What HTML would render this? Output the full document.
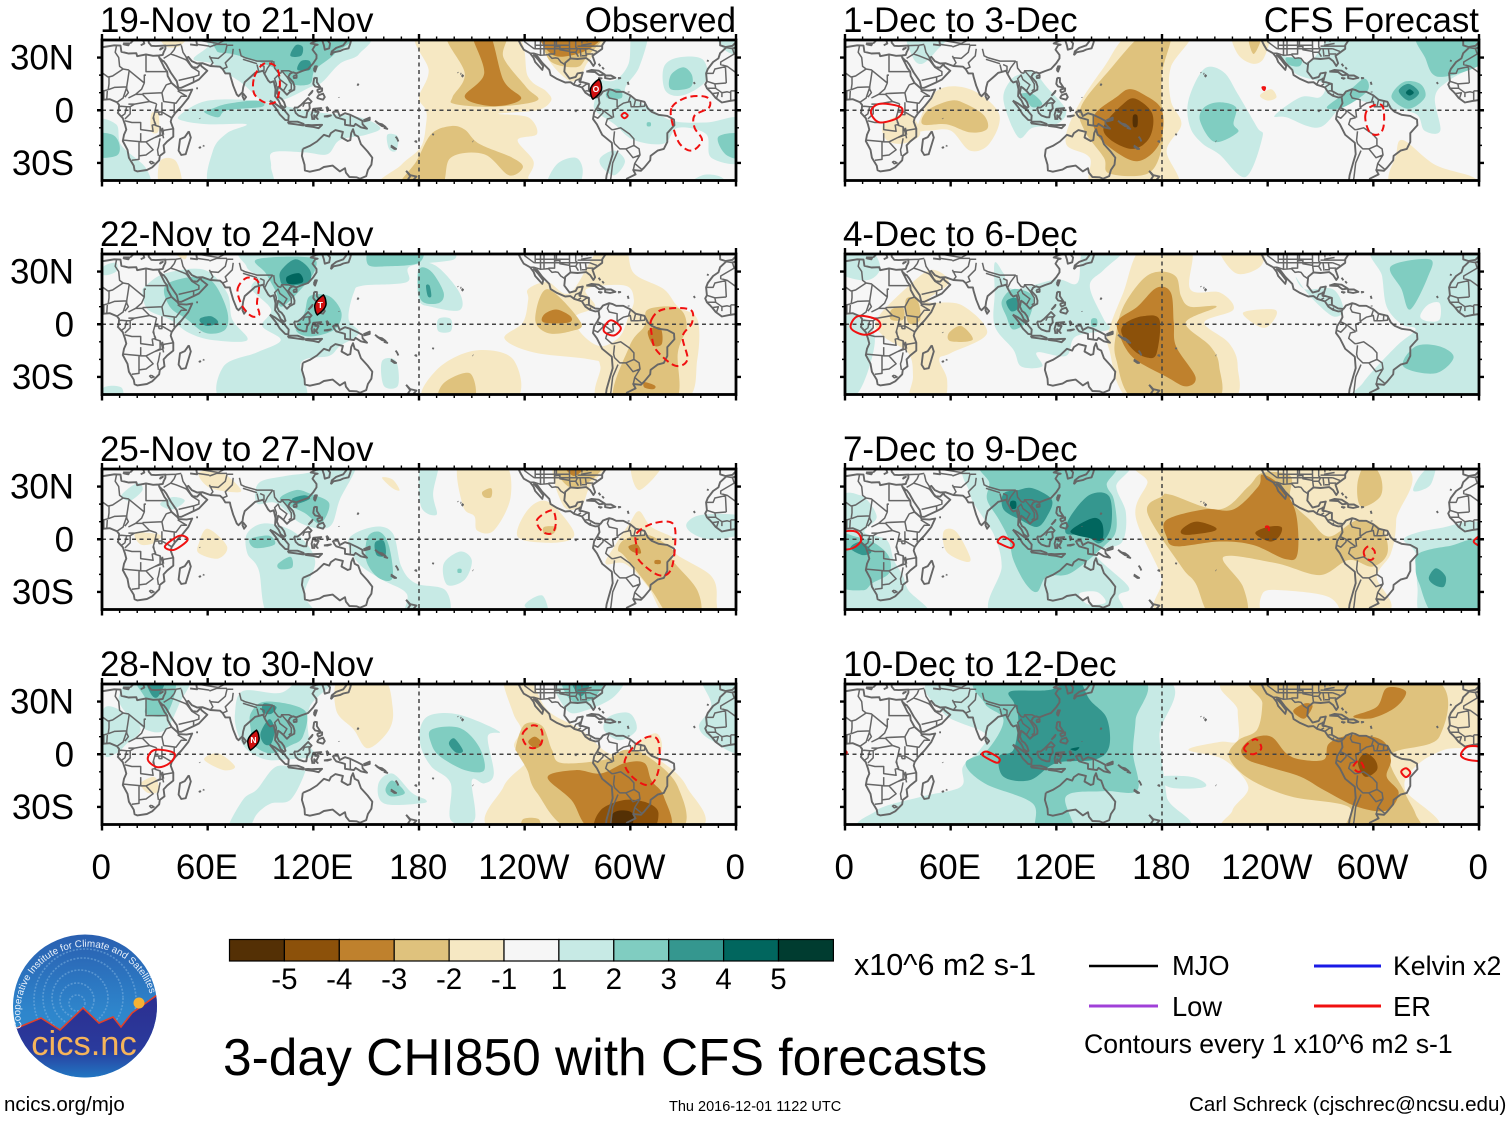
<!DOCTYPE html>
<html lang="en">
<head>
<meta charset="utf-8">
<title>3-day CHI850 with CFS forecasts</title>
<style>
html,body{margin:0;padding:0;background:#fff;}
svg{display:block;font-family:"Liberation Sans",sans-serif;}
</style>
</head>
<body>
<svg id="chart" xmlns="http://www.w3.org/2000/svg" width="1510" height="1121" viewBox="0 0 1510 1121">
<defs>
<linearGradient id="logoSky" x1="0" y1="0" x2="0" y2="1"><stop offset="0" stop-color="#2a5fb0"/><stop offset="0.55" stop-color="#2e86cc"/><stop offset="1" stop-color="#2f8fd0"/></linearGradient>
<linearGradient id="logoLand" x1="0" y1="0" x2="0" y2="1"><stop offset="0" stop-color="#2c2f90"/><stop offset="0.6" stop-color="#2a3a9c"/><stop offset="1" stop-color="#1f86cc"/></linearGradient>
<clipPath id="logoClip"><ellipse cx="85" cy="1006" rx="72" ry="71.5"/></clipPath>
</defs>
<g id="panels"></g>

<g id="colorbar"></g>
<text x="854" y="975" font-size="30.5">x10^6 m2 s-1</text>

<g>
<line x1="1089" x2="1158" y1="966" y2="966" stroke="#000" stroke-width="2.6"/>
<text x="1172" y="975" font-size="27.3">MJO</text>
<line x1="1089" x2="1158" y1="1006" y2="1006" stroke="#a040d8" stroke-width="3"/>
<text x="1172" y="1016" font-size="27.3">Low</text>
<line x1="1314" x2="1381" y1="966" y2="966" stroke="#1a1ae6" stroke-width="3"/>
<text x="1393" y="975" font-size="26.7">Kelvin x2</text>
<line x1="1314" x2="1381" y1="1006" y2="1006" stroke="#f01010" stroke-width="3"/>
<text x="1393" y="1016" font-size="27.3">ER</text>
<text x="1084" y="1053" font-size="26.6">Contours every 1 x10^6 m2 s-1</text>
</g>

<text x="223" y="1075" font-size="51.5">3-day CHI850 with CFS forecasts</text>
<text x="4" y="1111" font-size="20.5">ncics.org/mjo</text>
<text x="669" y="1111" font-size="14.5">Thu 2016-12-01 1122 UTC</text>
<text x="1189" y="1111" font-size="20.6">Carl Schreck (cjschrec@ncsu.edu)</text>

<g>
<ellipse cx="85" cy="1006" rx="72" ry="71.5" fill="url(#logoSky)"/>
<g clip-path="url(#logoClip)">
<g fill="none" stroke="#7fb2e0" stroke-width="1.6" stroke-dasharray="2 1.5" opacity="0.55">
<circle cx="77" cy="1003" r="8"/><circle cx="77" cy="1000" r="17"/><circle cx="80" cy="998" r="28"/><circle cx="83" cy="998" r="40"/><circle cx="85" cy="1000" r="51"/>
</g>
<path d="M10,1030 L17,1028 L41,1018 L60,1030 L83,1008 L99,1023 L113,1017 L121,1027 L132,1013 L157,995 L165,995 L165,1085 L5,1085 Z" fill="url(#logoLand)" stroke="#e0402a" stroke-width="1.6"/>
<circle cx="139" cy="1003" r="5.5" fill="#f7b234"/>
</g>
<path id="logoArc" d="M22,1028 A65,65 0 1 1 151,998" fill="none"/>
<text font-size="9.9" fill="#e8f0fa"><textPath href="#logoArc">Cooperative Institute for Climate and Satellites</textPath></text>
<text x="84" y="1055" font-size="34.5" text-anchor="middle" fill="#f5b45a">cics.nc</text>
</g>
</svg>

<script>
// ---- Scale and axis categories ----
const colorbarColors = ['#543005','#8c510a','#bf812d','#dfc27d','#f6e8c3','#f6f6f6','#c7eae5','#80cdc1','#35978f','#01665e','#003c30'];
const colorbarLabels = ['-5','-4','-3','-2','-1','1','2','3','4','5'];
const lonTicks = [0,60,120,180,240,300,360];
const lonTickLabels = ['0','60E','120E','180','120W','60W','0'];
const latTicks = [30,0,-30];
const latTickLabels = ['30N','0','30S'];
const panelTitles = ['19-Nov to 21-Nov','22-Nov to 24-Nov','25-Nov to 27-Nov','28-Nov to 30-Nov','1-Dec to 3-Dec','4-Dec to 6-Dec','7-Dec to 9-Dec','10-Dec to 12-Dec'];

// ---- CHI850 anomaly contours: [level, lon,lat, lon,lat, ...]; 0 = hole, x.5 = hole inside a stronger level ----
const contoursNov19 = [
[1,44,-3,58,5,80,6,96,4,121,-1,146,-4,158,-10,150,-14,135,-17,128,-25,115,-24,97,-24,96,-32,95,-40,62,-40,63,-23,71,-13,82,-8,60,-8,46,-6],
[1,147,39,146,32,135,26.5,125,16,118,13,107,7.5,100,5.5,91,5.5,80,15,71,21,63,26.5,52,29,60,36,66,39],
[1,0,-8,8,-8,11,-20,25,-33,25,-40,0,-40],
[1,162,-14,168,-15,167,-23,163,-22],
[1,280,17,291,17,299,26.5,301,39,310,39,305,24.5,297,11,310,2,324,-6,343,-7,360,-5,360,-29,346,-27,343,-13.5,327,-10,319,-19,302,-17,291,-8,280,0,280,7.5],
[1,253,-40,258,-31,269,-27,273,-34.5,269,-40],
[1,283,-27,291,-23,297,-29,291,-37,284,-32.5],
[1,332,-40,341,-37,351.5,-38,354,-40],
[1,319,24.5,327,30,341,29,343,17,330,8.5,320,11],
[1,349,39,354,34,360,32,360,39],
[2,140,39,132,32,121,23,118,15,107,15,104,21,88,28,74,32,65,34,70,39],
[2,63,1,71,3.6,88,5.5,91,2,71,0,66,-4,58,-1],
[2,0,-14,6,-14,10,-20,8,-26,0,-26],
[2,350,-15,360,-14,360,-27,354,-25],
[2,323,20,330,24.5,335,20,334,13,323,12],
[2,287,11,294,12,295,7,287,7],
[2,309.5,-7,311.5,-7,311.5,-9,309.5,-9],
[3,107,31,110,37,114,36,113,31],
[3,111,23,113,28,118,28,118,23],
[-1,33,38.5,49,38.5,44,36.5,36,36.5],
[-1,28,-2,32,-2,32,-12,28,-12],
[-1,33,-29,42,-29,45,-40,33,-40],
[-1,180,39,233,39,242,19,252,11,255,5.5,247,0,225,-2,242,-4,247,-13.5,236,-17,245,-29,242,-38,240,-40,161,-40,170,-31,181,-21,184,-8,184,0,180,7.5,185.5,22.5],
[-1,253,39,253,30,265,17,272,19,275,26,286,39],
[-2,196,39,206,21,199,7.5,200.5,3.5,222.5,2,247,5.5,241,13,228,30,228,39],
[-2,187,-13.5,198,-9,206,-11,214,-19,233,-27,239,-32.5,231,-37,217,-25,198,-27,192,-40,169,-40,178.5,-29],
[-2,253,39,254,28.5,269,24.5,275,30,284,39],
[-3,210,39,217,21,206,7.5,222.5,2.3,238,6.5,228,17,220,39],
[-3,250,39,257,31,275,34,283,39]
];
const contoursNov22 = [
[1,25,22,36,29,58,31,71,18,74,2.7,82.5,-9,63,-9,49.5,-5,38.5,2.7,26,8.4,23,18],
[1,85,39,175,39,195,39,200,37,175,33,173,24,148,22,143,18,140,3,146,-5,135,-12.5,129,-18,113,-22,114,-39,69,-39,69,-24,88,-16,101.5,-9,91,-1,96,8.4,85,20,88,27,82,33],
[1,180,33,190,33,203,18,203,8,187,10,180,14],
[1,159,-21,167,-21,168,-35,160,-35],
[1,191,3,198,3,198,-4,191,-4],
[1,1,-36,11,-36,11,-40,1,-40],
[1,1,33,8,35,8,30,1,28],
[0,81,13,88,13,90,6,84,5],
[2,88,37,118,38,121,31,113,20,102,10,99,18,93,29],
[2,118,16,129,16,136,6.5,132,-3,118,-7,110,-3,115,6.5],
[2,36,22,52,27,63,24,71,8,70,-3,59,-5,48,3,38.5,10],
[2,151,34,154,39,180,39,180,35,162,33],
[2,180,31,187,30,194,18,191,12,181,14],
[3,102,31,110,37,118,31,117,24,104,22,101,26],
[3,56,3.5,62,4.5,66,1,60,-1,56,1],
[3,184,22,186,22,187,16,185,16],
[4,105,27,112,29,114,24,106,23],
[-1,37,39,47,39,47,37],
[-1,242,20,253,24,266,18,283,39,297,39,302,29,319,20,327,10,338,3,338,-20,330,-39,283,-39,283,-24,277,-20,245,-16,228.5,-8,239,1,242,14],
[-1,184,-39,190,-26,211.5,-15,233.5,-20,233.5,-39],
[0,275,20,297,22,302,14,299,4.5,294,-7,283,-12.5,272,-5,269,4.5,280,10],
[-2,192,-39,194,-33.5,209,-28,211,-39],
[-2,246,3,253,20,272,1,266,-4,253,-5],
[-2,310,8.4,327,9.3,332,-1,327,-16,325,-39,291,-39,299.5,-12.5,308,-1],
[-3,251,5.5,258,8.4,266,4.5,265,1,251,1],
[-3,310,-4,317,-2,318,-11,313,-12],
[-3,308,-33,314,-35,313,-37,308,-36]
];
const contoursNov25 = [
[1,89,32,104,36,118,38,144,39,135,22.5,129,7,113,9,99,20.5,88,20.5],
[1,82.5,3.5,93,9,110,3.5,121,-12,115,-31,121,-40,95,-40,89,-17.5,82.5,-8],
[1,140,0,154,7,165,3.5,170,-15.6,178,-25,195,-29,196,-40,173,-40,173,-31,159,-23,145.6,-13.7],
[1,181,38.7,191,38.7,188,26,190,14,181,19],
[1,194,-14,203.5,-7,210,-12,206,-23,196,-26],
[1,240,-38,250,-32,253,-40],
[1,332,9,341,14,360,13,360,3.5,346,0,335,3.5],
[1,11,25,20,32,23,28,16,22],
[1,33,20,40,24,47,22,40,17],
[2,151,1.5,158,4,163,-4,165,-22,157,-22,150,-12],
[2,84,0,95,2,98,-3,87,-5],
[2,100,-14,107,-10,108,-16,101,-17],
[2,101,22.5,110,28,118,26,129,20.5,124,9,115,15],
[2,202,-17,204,-17,204,-19,202,-19],
[3,155,-2,160,-1,161,-9,156,-9],
[3,108,23,115,25,118,23,110,20],
[-1,203,39,228,39,232,24,222.5,5,213,5,211.5,13,205,19],
[-1,236,1.5,242,17,253,21.5,266.5,7,266.5,0,253,-2],
[-1,257,39,262,19,272,19,277,30,286,39],
[-1,301,39,319,39,305,28],
[-1,286,-14,291,-4,299.5,9,305,16,312,7,325.5,0,325.5,-8,346,-21,349,-35,346,-40,321,-40,310,-27,297,-14],
[-1,19,3.5,33,2.5,30,-2,22,-3],
[-1,55,-2.3,60,6,71,-4,66,-11,55,-8],
[-1,55,38,68,38,79,28,72,27,60,30],
[-1,159,35,165,34,169,28,165,29],
[-2,216,27,221,29,221,24,217,24],
[-2,251,7,258,7,256,3,251,3],
[-2,257,38.7,265,30,277,33,284,38.7],
[-2,293,-6,297,0,310,2.5,324,-6,324,-12,338,-29,339,-38.5,323,-39.5,312,-29,297,-10],
[-3,262,39,268,36,276,39],
[-3,299,-4,304,-3,306,-8,301,-7],
[-3,314,-12,317,-12,317,-14,314,-14]
];
const contoursNov28 = [
[1,75.5,23.4,80,36,101.5,35,113,38.7,121,39.6,135,39.6,118,27,118,6,121,-1,104,-3,93,-3,82.5,2.5,77,12],
[1,88,-20,99,-7,113,-9,115,-11,107,-26,96,-28,88,-34,82,-39.5,71,-39.5,80,-26],
[1,9.6,33,19,39.6,49,39.6,44,29,36,14,25,14,14,23],
[1,1,26,14,23,22,14,14,6,8,0.5,1,0.5],
[1,341,38.7,360,38.7,360,2.5,346,8,339,16,346,28],
[1,181,16,187,22.5,203,22.5,225.5,13,219,10,222.5,-11,217,-16.6,210,-15,211.5,-37.5,198,-37.5,198,-16.6,187,-7,181,4.4],
[1,157,-16.6,165,-11,176,-22,184,-26,181,-28,160,-28],
[1,258,39.6,264,25,275,25,291,33,294,39.6],
[1,288,21.5,299.5,23.4,303.5,14,294,8,285,14],
[2,84.5,23.4,93,30,115,25,114,10,107,5,96,0.5,86.5,5,84.5,14],
[2,19,39.6,41,39.6,37,23.4,25,23,25,31],
[2,187,14,203,15,214,4.4,217,-9,206,-9,192,-1.3,187,6],
[2,161,-20,165,-15,172,-22,164,-24],
[2,262,39,266,31,278,31,285,39],
[3,90,12,95,20,98,14,96,6,92,6],
[3,92,29,99,27,96,23,91,24],
[3,25,39,36,39,32,33,28,34],
[3,197,6,200,9,205,2,201,1],
[3,266,39,272,33,278,39],
[-1,228,39.6,242,39.6,253,25,272,14,288,0.5,302,2.5,316,-3,332,-18.5,335,-39.5,225,-39.5,228,-18.5,242,-3,234,4.4,238,14,233.5,23.4],
[-1,133,25,135,39,159,39,165,27,163,14,151,3.4,143,14],
[-1,58,-3,66,0.5,75.5,-7,69,-9],
[-1,22,-16.6,30,-13,32,-21,26,-22],
[-1,300,3,314,12,318,4,313,-3],
[-2,235,4.4,240,17,250,16,255.5,2.5,261,-5,286,-3,297,2.5,310,-1.3,327,-18.5,327,-39.5,269,-39.5,247,-22,241.5,-9,236,0.5],
[-2,239,-37,248,-37,248,-39.5,239,-39.5],
[-3,242,7,246,10,250,6,246,3.4],
[-3,253,-13,269,-9,283,-11,297,-5,308,-5,312,-15,319,-24,321,-39.5,280,-39.5,266.5,-26],
[-4,281.5,-39.5,283,-32,297,-26,310.5,-28,316,-34,310,-39.5],
[-5,290,-34,297,-32,302,-35,299,-39.5,291,-39.5]
];
const contoursDec1 = [
[1,94,17,90,5.5,98.4,-15.4,106.5,-10,120,-8,125.5,0,114.7,13,106.5,22.7,100,20.8],
[1,36,39,59,39,52,34,44,26.5,38.6,30],
[1,195,5.5,204,23.6,215,21.7,223,9.3,234,-9.7,237,-15.4,227.5,-38,212.5,-25,203,-19,196,-9.7],
[1,248,31,264,28,284.5,39,359,39,359,30,343,17,335,7.4,338,-11.6,329,-11.6,324,-2,305,1.7,286,5.5,269.6,-9.7,250.5,-4,244,-3,258.7,7.4,269.6,7.4,272,15,256,20.8],
[2,100,9.3,106.5,9.3,112,3.6,106.5,1.7,103,6],
[2,201.6,-6,204,1.7,212.5,4.6,222,1.7,220.6,-7.8,223,-12.6,209.8,-18],
[2,326,39,360,39,359,28,337.5,19,329.4,30],
[2,310.3,7.4,317,16,326.6,15,329.4,7.4,320,0.8],
[2,273.6,1.7,286,11,295,18,296.7,11,283,1.7],
[2,250.5,30,259,29,258,25,252,26],
[3,314.4,11,320,15,326,10,320,5.5],
[4,318.5,10,320.6,12,323,10,320.6,8.4],
[-1,163,39,196,39,185,24.5,185,5.5,191,-8,182.6,-23,188,-39,142,-39,139,-27,125.5,-19,131,0,147,24.5],
[-1,41,-10,52,11,71,12,87.5,-2,82,-19,71,-23,60,-11.6,47,-11.6],
[-1,22,-8,36,-2,42.7,-13.5,33,-19,23.6,-17],
[-1,311.7,-39,313,-25,317,-17,335,-31,356.5,-38,358,-39],
[-1,220.6,39,240,39,238,30,231.5,26.5,223,32],
[-1,235.6,8.4,242,12,245,7.4,240,5.5],
[-2,170,39,185,39,180,21,180,-4,180,-21,172,-36,150,-36,147,-27,136,-11.6,134,2,150,22.7],
[-2,44,-8,47,0,60,5.5,68.5,3.6,79,-3,80.7,-10.7,71,-12.6,57.6,-8],
[-2,229,39,237,39,232,32],
[-3,154,7.4,161,12,169,9.3,180,0,178.5,-19,166,-29,150,-21,142,-11.6,142,-2],
[-4,158,3.6,165,6.5,174.5,-2,173,-15.4,163.6,-22,151,-17,147,-9],
[-5,163.6,-3,166,-3,166,-9,163.6,-9]
];
const contoursDec4 = [
[1,85,35,90,29,95.6,20,120,25.5,132,23.6,136.4,39,159.5,39,147,31,139,21.7,147,2.7,150,-3,131,-7,125.5,-18,109,-16,112,-24,100,-24,95.6,-14.5,85,-1,85,18],
[1,0,-1,8.7,4.6,17,-8.8,8.7,-37,0,-39],
[1,0,39,13,39,20,32,12,25,0,30],
[1,302,39,360,39,360,-39,291,-39,294,-33.5,313,-12.6,324,-3,316,0,307.6,10,305,27.4],
[1,256,27,261,20,277,20,283,8.4,277,4.6,264,16],
[0,326.6,4.6,331,11,337.6,12,337.6,2.7,330.8,1.7],
[2,89,13,95.6,20,106.5,16,104,2.7,95.6,-3,91.6,4.6],
[2,310,33,332,37,331,27,321,8.4,316,20],
[2,317,-24,324,-12.6,337.6,-12.6,345.6,-19,335,-28],
[2,140,3,143,3,143,-1,140,-1],
[3,91.6,13,97,15,98.4,9.3,94.3,7.4],
[-1,169,39,196,39,196,20,213,18,220.6,8.4,204,1,218,-10.7,223,-24,218,-39,163.6,-39,150,-14.5,150,-3,158,18],
[-1,213,39,236,39,236,33,222,29],
[-1,226,6.5,243.7,8.4,243.7,2.7,237,-2],
[-1,18,2.7,36,21.7,49.4,31,59,23.6,46.8,13,66,11,80.7,-5,60,-16.4,53.5,-20,58,-31.6,55,-39,37,-39,38.6,-29.7,36,-16.4,22,-7],
[-2,178.5,30,188,27,190.8,16,196,10,211,10,193.4,0.8,207.5,-12.6,212.5,-24,210,-39,166,-39,154,-20,154,-5,158,10,169,25.5],
[-2,26.4,8.4,33,9.3,33,2.7,26,2.7],
[-2,34.5,14,41,14,42.7,2.7,36,0.8],
[-2,59,-5,66,-1,72.5,-8.8,60,-9.7],
[-3,166,10,177,20.8,185,18,186.7,0.8,188,-12.6,199,-30,193.5,-35.4,182.6,-30,163.6,-19,155.4,-5,155.4,2.7],
[-4,159.5,0.8,169,4.6,178.5,2.7,177,-16.4,171.7,-19,163.6,-14.5,157,-5]
];
const contoursDec7 = [
[1,74,39,157,39,154,30,159.5,15,157,-2,142,-8,161,-27,155.4,-32,152.7,-40,85,-40,89,-15.6,85,1.5,79.3,11,71,26],
[1,0,18.7,8.7,25,18,13,11,4,23.6,-0.4,27.7,-11.8,33,-21,36,-29,46.7,-40,0,-40],
[1,317.6,0.6,337.5,6.3,360,6.3,360,-40,329,-40,325,-27,324,-8],
[1,322.6,28,327,36.8,335.5,38.7,333,32,327.5,28],
[0,133,-31,143,-30,148,-36,138,-37],
[2,80.7,39,150,39,148.6,31,152.7,22.5,154,5.3,147,-4,128,-19.4,114.7,-21,109,-30,102.4,-25,95.6,-11.8,93,0,87.5,11,80.7,22.5,82,32],
[2,0,1.5,6,1.5,17,-2.3,25,-10,25,-19.4,15.5,-25,10,-29,0,-25],
[2,324,-15.6,326,-8,342.5,-4,360,-2.3,360,-40,336,-40,326,-25],
[3,90,26,98.4,28,106.5,29,117.4,22.5,114.7,13,109,7,99.7,11,90,17],
[3,125.5,3.4,128,13,139,25.3,150,24.4,151,7,144.6,-2.3,136.4,2.5],
[3,3,-5,9,-1.5,15,-7,10,-9],
[3,331.5,-22,335.5,-16.5,341,-21,340,-27,334.6,-26],
[4,128,4.4,140.5,12,146,9,146,-0.4,139,0.6],
[4,94,21.5,97,21.5,97,17.7,94,17.7],
[-1,174.5,39,311.6,39,313,11,310,-8,302,-21,302,-40,185,-40,179.6,-21,165,13,171.7,32],
[-1,56,4.4,63,4.4,71,-10,68.5,-12.8,57.6,-7],
[0,237,-31,248,-29,275,-33,277.7,-40,240,-40],
[-2,180,24.4,185,25.3,212.5,17,229,30,237,37.7,253,36,253,22.5,264,11,275,1.5,291.3,11,305,5.3,308,-8,299.5,-15.6,286,-11.8,269.6,-20.4,245,-13.7,215,-10,226,-27,227.5,-40,208,-40,199,-25,191,-15.6,171.7,15],
[-2,291,32,296.5,38.7,304,36,304,24.4,293,18.7],
[-3,237,36.8,247.8,30,256,15,257,-8,250.5,-11.4,231.5,-3.2,212.5,-1.3,188,-4,182.6,1.5,182.6,11,204,17,220.6,17,234.6,30],
[-4,191,5.3,199,10,210,7,208.7,4.4,193.5,2.5],
[-4,233,3.4,240,7,247.8,7,246.5,1.5,241,-1.3]
];
const contoursDec10 = [
[1,55,39.6,178.5,39.6,178.5,10,182.6,-24,185,-39.5,21,-39.5,18,-32,44,-24,65.8,-18.5,67,-7,76.6,2.5,79.3,12,56,23.4],
[1,178,-13,195,-12.6,204,-16,203,-19,185,-19],
[2,79.3,39.6,166,39.6,165,19.6,163.6,0.5,166,-20.4,147,-21,125.5,-24,129.6,-39.5,109,-39.5,106.5,-28,79.3,-16.6,68.5,-5,81,2.5,90,19.6,79.3,29],
[1.5,150,33,156,33,156,30,150,30],
[1.5,128,-26,146,-22,152,-30,148,-38,135,-38],
[3,94,35.8,117,36.8,131,38.7,139,31,148.6,20.6,150,4.4,142,-3,120,-5,105,-14.7,90,-12.8,87.5,-1.3,95.6,2.5,98.4,19.6,96,29],
[4,128,3,133,4,131,2],
[-1,223.4,39.6,359,39.6,359,8,340,2.5,324,-7,318,-20,333.4,-39.5,223,-39.5,220,-32,229,-18.5,215,-3,195,2.5,212.5,7,223,8,223,25],
[-2,235.6,39.6,332,39.6,337.5,10,310,-0.4,318,-22,324,-34,325,-39.5,286,-39.5,286,-30,253,-24,229,-13.7,218,-1.3,223.4,8,234,14,237,29],
[0,253,11,260,14,261.4,8,257.4,6.3],
[-3,225,2.5,231.5,9,242,10,250.5,0.6,258.7,-3,272,-3,275,6.3,288.6,11,305,8,310,-3,307.6,-12.8,314.4,-22,307.6,-32,291,-30,272,-20.4,258.7,-12.8,239.7,-7,228.8,-3.2],
[-3,288.6,21.5,302,27,307.6,37.7,318.5,35.8,313,27,299.5,20.6],
[-3,254.6,25,261.4,29,265.5,27.4,261.4,20.6,257.4,21.5],
[-2.5,273,-8,279,-7,282,-13,277,-14.7],
[-4,291.3,-5,295.4,0.6,301,-3.2,302,-9,295.4,-12.8]
];

// ---- ER wave contours: [dashed(1)/solid(0), lon,lat, ...] ----
const erNov19 = [
[1,86.5,19,92,26.5,99,24.5,101,15,99,5.5,93.5,4,86.5,9.3],
[1,323.6,1.7,332.4,7.4,343.4,7.4,344.8,1.7,336.5,-3,336.5,-10,340.7,-17,335,-23,328,-19,324,-8],
[0,295,-3,296.7,-1.5,298.5,-3,296.7,-4.5]
];
const erNov22 = [
[1,77,20,82.4,26.5,89,23.6,88,12,89.3,5.5,85,4.6,79.7,10.3],
[1,312,2.7,318.5,8.4,333.8,8.4,335,0.8,329.7,-7,332.4,-20,325.5,-23.6,314.6,-14.5,312,-5],
[0,285,-2,289,2.3,294.6,-2,291,-6.3,286,-5]
];
const erNov25 = [
[0,35.7,-4,44,2,48.6,-0.4,41,-6],
[1,247,11,255.5,16.4,257.7,9.3,255.5,3.4,250,4.4],
[1,303.6,3.4,313,9,324,9,325.5,-2.3,323,-17.5,316,-20.4,305,-12,303.5,-4]
];
const erNov28 = [
[0,26,-3,30,2.5,41,0.6,38.5,-5,31.6,-7.4],
[1,239,12,244.5,16.4,249.5,14,249.5,6.3,244.5,3.4,240,6.3],
[1,296.7,-5,302,4.4,310.4,10,316,7,316,-9,311,-17.5,302,-13.7]
];
const erDec1 = [
[0,14.7,-1,19.6,3.6,31.8,1.7,30.4,-4,19.6,-6.9],
[1,295.4,-4,298,1.7,305,2.7,306,-7.8,303.5,-13.5,298,-12.6],
[0,237,13,238.5,13,238,11.5]
];
const erDec4 = [
[0,3.3,-2,7.3,4.6,18,2.7,19.6,-2,11.4,-6]
];
const erDec7 = [
[0,-2,3.4,6,4.4,9.2,-0.4,4.6,-5,-2,-5],
[0,86.7,-1.3,90,1.5,95.6,-2.3,94.3,-5,89,-3],
[1,294.6,-7,297.3,-4,300.8,-7,299.5,-11.4,296,-11],
[0,362,2.5,357,-1.3,362,-4],
[1,239,7,240.5,7,240.5,4.5]
];
const erDec10 = [
[0,78,-0.4,80.7,1.5,87.5,-2.3,86,-4.8],
[0,315.8,-10,318.5,-8,321,-10.5,318.5,-13],
[0,349.7,-0.4,353.8,4.4,362,3.4,362,-3.2,354,-3.2],
[1,226.6,3.4,233,8.6,236.4,3.4,231.5,0],
[1,288.6,-7,292,-3.6,294.6,-8,291.3,-10],
[0,-2,3,1,1,-2,-1]
];

// ---- Tropical cyclone markers: [lon, lat, letter] ----
const stormsNov19 = [[280.5,12,'O']];
const stormsNov22 = [[124,11,'T']];
const stormsNov28 = [[86,8,'N']];

// ---- Map linework, flat lon,lat lists ----
const coastlines = [
[-5.5,35.8,-9,32.5,-10,29.5,-13,27.5,-16,23.5,-17,21,-16.5,16.5,-17.5,14.7,-16.5,12.5,-15,11,-13.5,9.5,-11.5,7,-8,4.4,-4,5.2,1,6,4.5,6.3,8.5,4.5,9.7,3,9.5,0,9,-1.5,11.8,-4.5,13,-8,13.8,-11,12.5,-14,11.8,-17.5,14.5,-22.5,15.3,-27,18,-31.5,18.5,-34.2,20,-34.8,25.5,-34,28.5,-32.5,32.5,-28.5,32.8,-26,35.5,-24,35,-20,37,-17.8,40.5,-15,40.5,-10.5,39,-6.5,39.5,-4.5,41.5,-1.7,45,2,49,7,51.2,11.8,48,11.2,43.5,11.5,43,12.5,39.5,15.5,37.3,19.5,37,22,35.5,24,33.8,27.5,32.5,30,32.3,31.2,29,31,25,31.8,20,30.8,19.5,32.5,15,32.3,11,33.3,10.5,36.8,7,37,1,36,-2,35.2,-5.5,35.8],
[32.5,30,34.5,28,35,28,36.5,26,39,21.5,42.5,16.5,43.3,12.8,45,12.8,52,16,55,17.5,59.8,22.5,56.5,25,56,26.3,54,24.2,51.5,24.5,50.2,26,48,29.8,49,30.4,51,28,54,26.6,57,26.8,61.5,25.2,67,24.8,68.5,23.5,70,21,72.6,21,73,19,74.5,14,76.5,9,77.5,8,79.8,10.3,80.2,13,81,16,85,19.5,87,21.3,89,21.8,91.5,22.5,92.3,20.5,94.3,17,95.5,15.8,97.5,16.5,98.5,12,98.3,8,100.3,5.5,101.5,2.8,103.5,1.4,104.2,2,103.4,4.5,102,6.5,100.5,7.5,99.3,10,100,13.4,101,12.7,103,11,105,8.8,106.5,10.3,109.2,11.7,109.3,13.5,108.5,16,105.8,19,106.8,20.8,108.5,21.6,110.3,21,113.5,22.3,117,23.5,120,26.8,121.8,29.5,121.8,31.5,119.5,34.5,121,37,122.5,37.3,118.5,38,121.5,39.5,125,40,126,37,126.5,34.5,129,35.3,129.5,38,127.5,40.5],
[-9,41,-9,39,-9,37,-6,36,-2,36.7,0,38.8,0.5,41],
[16,38,18,40,17,41],[12,38,15.5,38,15,37,12.5,37.5,12,38],[22,37,24,38,23,41],
[26.5,41,26.5,38.5,28,36.7,30.5,36.5,36,36.8,36,35,35,33,34.5,31.5,32.3,31.2],
[33,35,34.5,35.5,33,34.6,33,35],
[50,37.5,54,37,53.5,40,53,41],
[130,31.3,131.5,33,135,33.7,137,34.6,140,35.3,141,38,141.8,41,140,41,137,37,133,35.5,130.5,33.5,130,31.3],
[120.2,23,121,25,122,25,121,22,120.2,23],[108.7,19.5,110.5,20,110.5,18.5,109,18.3,108.7,19.5],
[120.5,18.5,122,18.3,122,16,124,13,121,13.5,120,15,120.5,18.5],
[122,7,125.5,6,126.5,7.5,125.5,9.5,123,8.5,122,7],[117.2,8.3,119.5,11,119,10,117.2,8.3],[122,11.5,123,10,125,11,125,12.5,123,12,122,11.5],
[109,1.5,111,1.5,113,3,115,5,117,7,119,5,117.7,3.5,118,1,116.5,-1,116,-4,114.5,-4,111.5,-3,110,-1.5,109,1.5],
[95.3,5.5,98,4,103.5,0,106,-3,105.8,-5.8,104,-5.5,101,-2.5,98.5,1.5,95.3,5.5],
[105.5,-6.5,108.5,-6.5,111,-6.5,114.5,-7.8,114.3,-8.6,110,-8,106,-7.5,105.5,-6.5],
[115,-8.5,117,-8.4,119,-8.5,122,-8.4,125,-8.3,123,-10.2,120,-9.5,116,-9,115,-8.5],
[119.5,-5.5,119,-2.5,120,0.8,124.5,1.2,121,-0.9,123,-1,121.5,-4,122.5,-5,120.5,-2.8,120.5,-5.5],
[127.5,2,128.5,1,128,-0.5,127.5,2],[126,-3.5,130,-3,128,-3.6,126,-3.5],
[131,-0.8,134,-0.8,135,-3.3,138,-1.7,141,-2.6,145,-4.5,147.8,-6,148,-8,150.5,-10.5,147,-9.7,144,-7.8,143,-9,138,-8.3,138,-5.5,133,-4,132,-2.8,131,-0.8],
[148.5,-5.7,152,-4.2,152,-5.5,149,-6.3,148.5,-5.7],[155,-6,157,-7.5,159,-8,161,-9.5,159,-9,156,-7],[160,-10,162,-10.6,161,-9.8],
[166.7,-15,167.5,-16,168.3,-17.8],[164,-20,167,-22,166,-22,164,-20.5],[177.5,-17.5,178.5,-18,178,-17.3],
[172.7,-34.5,175,-37,178.5,-37.7,177,-39.5,175.3,-41,173.8,-39.3,175,-37.5,172.7,-34.5],
[114,-22,113.5,-26,115,-31,115.2,-34.3,118,-35,123.5,-33.8,126,-32.3,131,-31.5,135,-34.8,138,-33,138.5,-35.5,140.5,-38,144.5,-38.2,146.5,-39,150,-37.5,151,-34,153,-31,153.5,-27,150.8,-23.5,147,-19.3,145.5,-15,143.5,-14,142.5,-10.8,141.5,-13,141,-17,139.5,-17.5,136,-15.5,136.8,-12.3,132.5,-11.3,130,-13,129,-15,126,-14,122,-17.8,118,-20.3,114,-22],
[49.3,-12,50.4,-15.5,47.5,-25,45,-25.5,43.5,-23,44.3,-16.5,47,-15.3,49.3,-12],
[80,9.7,81.8,7.5,80.7,6,79.8,8,80,9.7],
[55.3,-20.8,55.8,-21.2,55.4,-21.3,55.3,-20.8],[57.4,-20.1,57.7,-20.3,57.5,-20.5],[55.4,-4.5,55.6,-4.8],[53.5,12.5,54.5,12.5],
[-124,41,-122,37,-120.5,34.5,-117,32.5,-115,30,-114,27.5,-110,23,-109.5,25,-112.5,29,-114.8,31.5,-113,31,-110,27,-106,23,-105.3,20,-102,18,-97,15.8,-94,16,-92,14.5,-87.5,13,-85.5,10,-83,8.3,-80,7.3,-78,7.5],
[-77,8.7,-80,9,-83.5,11,-83.5,15,-87,16,-88.5,16,-88,18,-87,21.5,-90,21,-91,19,-94.5,18,-97.5,22,-97,27,-94,29.5,-90,29.2,-85,29.7,-82.8,28,-81,25.2,-80,26.8,-81.5,31,-76,35,-76,37,-74,40,-72,41],
[-78,7.5,-77.5,4,-78.8,1.5,-80.5,-1,-81.2,-5,-79,-8,-76,-14,-70.5,-18.5,-70,-25,-71.5,-30,-73.5,-37,-74,-41],
[-77,8.7,-75.5,10.7,-72,12,-70,11.5,-68,10.5,-64,10.5,-60,8.5,-57,6,-52,4.8,-50,1,-48,-0.8,-44,-2.6,-39,-3.2,-35.2,-5.3,-35,-8.5,-39,-13,-39,-18,-41,-22,-44.5,-23,-48.5,-26,-48.7,-28.5,-52,-32.5,-54,-34.5,-58.4,-34,-57,-36.5,-62,-39,-62,-41],
[-85,22,-82,23,-78,22.5,-74.5,20.3,-77.5,19.9,-80,21.7,-85,22],[-74.3,19.8,-71,19.8,-68.5,18.5,-71.5,17.8,-74.3,18.3,-74.3,19.8],[-78.3,18.4,-76.3,18.2,-77.5,17.8],[-67,18.4,-65.7,18.3,-67,18],
[-78,26.5,-77,25],[-76,24.5,-75,23.3],[-61.5,16.2,-61,14.5],[-61,10.7,-60.9,10.1],
[-158,21.6,-157.8,21.3],[-156.5,20.9,-156,20.7],[-155.8,20.2,-155,19.7,-155.7,19],[-91.5,0,-90.5,-0.8],[-24,16,-23.3,15],[-16.5,28.3,-15.5,28],[-172.5,-13.6,-171.5,-14],[-149.5,-17.6,-149.2,-17.8],[134.5,7.5,134.6,7.2],[145,14,145.7,15.2]
];
const borders = [
[-2,35,-1,32,-8.7,27.5,-8.7,26,-5,25,-12,23.5,-13,21,-17,21],[8.3,37,7.5,33,9.5,30,10,25,12,23.5],[25,31.8,25,22,36.8,22],[25,20,24,20,24,15.5,15,23,12,23.5,6,19.5,4,19,3.3,19,-5,25],[4,19,4,15,3.5,11.7],[-5.5,15.5,-6,25],[-12,15,-5.5,15.5],[3.6,11.7,7,13,14,13.3],[15.5,23,14,13.3,14,12,15,10,13,7.5],[24,15.5,22.5,12,19,9],[8.5,4.5,12,7,14,13],[15,3.5,18.5,3.5,27,5,31,3.7],[15,7,19,9,23,9,27,5],[23,9.5,34,10],[36.5,14.5,34,10,35,5,42,4,45,8,48,8,43,11],[34,4.5,34,-1,40,-4.5],[41,4,41,-1.7],[30,-1,34,-1],[31,3.7,30,-1,29,-4.5,30.5,-8,28.5,-8.5,29,-12,22,-11,22,-7,17,-7,13,-6],[18.5,3.5,16,2,14,2,11,2.3,9.7,2.2],[14,2,13,-2,11,-3.5],[16,2,16,-2,13,-5],[12,-17,23,-18],[22,-13,22,-18,25,-18,30,-15.5,33,-14,33,-9.5,30,-8.5],[21,-18,21,-28,17,-28.5],[21,-26,25,-25.5,29,-22.5,25,-18],[33,-16,32,-21,31.5,-22.5,32,-26],[40.5,-10.5,35,-11.5,34.5,-14,30,-15.5],[33,-9.5,34,-12,35,-16],[28,-29,29.5,-30,28,-30.5,27,-29.5,28,-29],[-12,15,-11.5,12.5,-8,10,-8,7.5],[-3,11,-3,5],[1,11,1,6],[3,11,2.7,6.5],[-3,11,1,11,3.5,11.7],[-8,10,-5,10.5,-3,10],[-16.5,16.5,-12,15],[-16.7,12.5,-11.5,12.5],[-13.5,9.5,-10,10,-11,7],[36.5,14.5,39.5,15.5,43,12.5],
[32,-1,34,-1,34,-2.5,32.5,-2.5,32,-1],[29.3,-4,29.8,-7,30.5,-8],[34.3,-10,34.8,-13,35,-14],
[35,29.5,39,32,42,31,47,29,48,28.5,51,24.5,55,22,55,20,52,19,52,16],[43.5,17,52,19],[45,37,46,33,48,30],[61,31,63,27,61.5,25.2],[61,30,66,29.5,70,33,71,37,74.5,37],[68.5,23.5,71,24.5,70,27,74,31,74.5,35],[78,35,79,31,81,30,88,28,92,28,97,28],[80,29,88,26.5],[88,26,89,22],[89,22,92,22.5,92,25,89.8,26],[92.5,21,94,24,97,28],[97.5,28,98,24,100,21.5,101.5,21],[98.5,10,99,15,98,18,100,20,101,17.5,105,14.5,103,11],[102,22.5,105,19,107.5,15,107.5,12,106,11],[101.5,21,102,22.5,106,22.5,108,21.6],[36,36.8,42,37,45,37.5],[42,37,41,34.5,39,32],[54,37.5,61,36.5],[61,36,65,37.5,71,37.5],[54,40,60,39,66,38,70,40],[114,2,115,4,118,4.3],[141,-2.6,141,-9],
[-117,32.5,-114.8,32.5,-111,31.3,-108,31.5,-106.5,31.7,-104.5,29.5,-102.5,29.8,-101,29.5,-99.5,27.5,-97.2,26],[-120,41,-120,39,-114.6,35],[-114,41,-114,35],[-111,41,-111,31.3],[-109,41,-109,31.4],[-103,41,-103,32,-106.5,32],[-102,41,-102,37],[-100,37,-100,34.5,-94.5,33.5],[-94.6,41,-94.5,33.5,-94,29.5],[-114,37,-94.6,37],[-90,36.5,-76,36.5],[-114.6,35,-83,35],[-91,41,-91,36,-90,35,-91,33,-89.5,30.5],[-88.5,35,-88,30.5],[-85.5,35,-85,31,-87.5,31],[-85,32,-81,32],[-83,35,-79,33.5],[-84.8,39,-84,41],[-87.5,41,-87.5,38],[-80.5,41,-80.5,39.7,-75.5,39.7],[-82,38,-88,37],[-103,37,-103,36,-100,36.5],[-94,33,-91,33],
[-92.2,14.5,-91,17,-89,17.8,-88.3,18.5],[-89,17.8,-89,15.9],[-90,13.8,-88,15],[-87.5,13,-85,14.8,-83.2,15],[-85.5,11,-83.5,11],[-83,8.3,-82.5,9.5],[-78,7.5,-77,8.7],
[-72,12,-73,9,-72,7,-67.5,6,-67.5,2,-67,1.2,-70,0,-69.5,-4.2],[-70,-4.2,-73,-5,-74,-8,-70.6,-11,-69.5,-11],[-78.8,1.5,-75.5,0,-75.5,-1.5,-78.5,-4.5,-80.5,-3.5],[-75.5,0,-70,-4.2],[-69.5,-11,-65.5,-10,-60.5,-13.5,-58,-16.3,-58,-20,-62.5,-22,-66,-22,-69,-19,-69.5,-17,-69,-12],[-67,-23,-70,-30,-71,-38,-71.5,-41],[-58,-20,-55,-22,-54.5,-25.5,-58.5,-27,-62.5,-22],[-54.5,-25.5,-57.5,-30.3,-58.3,-34],[-57.5,-30.3,-53.5,-33.7],[-60,8,-61,5,-60,5,-64,4,-67,2],[-60,5,-59.5,2,-56,2,-52,2.3,-51.5,4.5],[-57,6,-58,2],[-54,5.8,-54.3,2.3]
];

// ---- Layout ----
const NS = 'http://www.w3.org/2000/svg';
const colLeft = [102, 845];
const rowTop = [40, 254, 469, 684];
const mapW = 634;
const mapH = 140.5;
const root = document.getElementById('panels');
const panels = [
  {i:0,col:0,row:0,contours:contoursNov19,er:erNov19,storms:stormsNov19,tag:'Observed'},
  {i:1,col:0,row:1,contours:contoursNov22,er:erNov22,storms:stormsNov22},
  {i:2,col:0,row:2,contours:contoursNov25,er:erNov25,storms:[]},
  {i:3,col:0,row:3,contours:contoursNov28,er:erNov28,storms:stormsNov28},
  {i:4,col:1,row:0,contours:contoursDec1,er:erDec1,storms:[],tag:'CFS Forecast'},
  {i:5,col:1,row:1,contours:contoursDec4,er:erDec4,storms:[]},
  {i:6,col:1,row:2,contours:contoursDec7,er:erDec7,storms:[]},
  {i:7,col:1,row:3,contours:contoursDec10,er:erDec10,storms:[]}
];

function add(tag, parent) {
  const e = document.createElementNS(NS, tag);
  parent.appendChild(e);
  return e;
}
function levelColor(level) {
  return colorbarColors[Math.trunc(level) + 5];
}
function paintOrder(level) {
  return level === 0 ? 1.5 : Math.abs(level);
}
function closedSmooth(pts) {
  const n = pts.length;
  let d = 'M' + pts[0][0].toFixed(1) + ' ' + pts[0][1].toFixed(1);
  for (let k = 0; k < n; k++) {
    const p0 = pts[(k - 1 + n) % n], p1 = pts[k], p2 = pts[(k + 1) % n], p3 = pts[(k + 2) % n];
    const c1x = p1[0] + (p2[0] - p0[0]) / 6, c1y = p1[1] + (p2[1] - p0[1]) / 6;
    const c2x = p2[0] - (p3[0] - p1[0]) / 6, c2y = p2[1] - (p3[1] - p1[1]) / 6;
    d += 'C' + c1x.toFixed(1) + ' ' + c1y.toFixed(1) + ' ' + c2x.toFixed(1) + ' ' + c2y.toFixed(1) + ' ' + p2[0].toFixed(1) + ' ' + p2[1].toFixed(1);
  }
  return d + 'Z';
}

panels.forEach(function (p) {
  const left = colLeft[p.col], top = rowTop[p.row];
  const x = function (lon) { return left + lon / 360 * mapW; };
  const y = function (lat) { return top + (40 - lat) / 80 * mapH; };
  const snapLon = function (lon) { return lon >= 359 ? 364 : (lon <= 0.5 ? -4 : lon); };
  const snapLat = function (lat) { return lat >= 38.4 ? 44 : (lat <= -38.4 ? -44 : lat); };

  const g = add('g', root);
  
  

  const clip = add('clipPath', g);
  clip.setAttribute('id', 'clip' + p.i);
  const clipRect = add('rect', clip);
  clipRect.setAttribute('x', left);
  clipRect.setAttribute('y', top);
  clipRect.setAttribute('width', mapW);
  clipRect.setAttribute('height', mapH);

  const bg = add('rect', g);
  
  
  bg.setAttribute('x', left);
  bg.setAttribute('y', top);
  bg.setAttribute('width', mapW);
  bg.setAttribute('height', mapH);
  bg.setAttribute('fill', colorbarColors[5]);

  const body = add('g', g);
  body.setAttribute('clip-path', 'url(#clip' + p.i + ')');

  p.contours.slice().sort(function (a, b) { return paintOrder(a[0]) - paintOrder(b[0]); }).forEach(function (c) {
    const pts = [];
    for (let k = 1; k < c.length; k += 2) pts.push([x(snapLon(c[k])), y(snapLat(c[k + 1]))]);
    const path = add('path', body);
    
    
    path.setAttribute('d', closedSmooth(pts));
    path.setAttribute('fill', levelColor(c[0]));
  });

  const drawLines = function (lines, name, width) {
    let d = '';
    [0, 360].forEach(function (off) {
      lines.forEach(function (l) {
        for (let k = 0; k < l.length; k += 2) {
          d += (k === 0 ? 'M' : 'L') + x(l[k] + off).toFixed(1) + ' ' + y(l[k + 1]).toFixed(1);
        }
      });
    });
    const path = add('path', body);
    
    
    path.setAttribute('d', d);
    path.setAttribute('fill', 'none');
    path.setAttribute('stroke', '#666');
    path.setAttribute('stroke-width', width);
    path.setAttribute('stroke-linejoin', 'round');
  };
  drawLines(borders, 'country-borders', 1.5);
  drawLines(coastlines, 'coastlines', 1.9);

  const eq = add('line', body);
  
  
  eq.setAttribute('x1', x(0));
  eq.setAttribute('x2', x(360));
  eq.setAttribute('y1', y(0));
  eq.setAttribute('y2', y(0));
  eq.setAttribute('stroke', '#444');
  eq.setAttribute('stroke-width', 1.5);
  eq.setAttribute('stroke-dasharray', '4 3.5');

  const dl = add('line', body);
  
  
  dl.setAttribute('x1', x(180));
  dl.setAttribute('x2', x(180));
  dl.setAttribute('y1', y(40));
  dl.setAttribute('y2', y(-40));
  dl.setAttribute('stroke', '#444');
  dl.setAttribute('stroke-width', 1.5);
  dl.setAttribute('stroke-dasharray', '4 3.5');

  p.er.forEach(function (c) {
    const pts = [];
    for (let k = 1; k < c.length; k += 2) pts.push([x(c[k]), y(c[k + 1])]);
    const path = add('path', body);
    
    
    path.setAttribute('d', closedSmooth(pts));
    path.setAttribute('fill', 'none');
    path.setAttribute('stroke', '#f01010');
    path.setAttribute('stroke-width', 2);
    if (c[0]) path.setAttribute('stroke-dasharray', '7 4');
  });

  p.storms.forEach(function (s) {
    const sg = add('g', body);
    
    
    const cx = x(s[0]), cy = y(s[1]);
    const arms = add('path', sg);
    arms.setAttribute('d', 'M' + (cx + 3) + ' ' + (cy - 10) + 'Q' + (cx - 7) + ' ' + (cy - 3) + ' ' + (cx - 5.5) + ' ' + (cy + 3) + 'Q' + (cx - 5) + ' ' + (cy + 8) + ' ' + (cx - 3) + ' ' + (cy + 10) + 'Q' + (cx + 7) + ' ' + (cy + 3) + ' ' + (cx + 5.5) + ' ' + (cy - 3) + 'Q' + (cx + 5) + ' ' + (cy - 8) + ' ' + (cx + 3) + ' ' + (cy - 10) + 'Z');
    arms.setAttribute('fill', '#d01010');
    arms.setAttribute('stroke', '#000');
    arms.setAttribute('stroke-width', 1.5);
    const letter = add('text', sg);
    letter.setAttribute('x', cx);
    letter.setAttribute('y', cy + 3);
    letter.setAttribute('font-size', 8.5);
    letter.setAttribute('font-weight', 'bold');
    letter.setAttribute('text-anchor', 'middle');
    letter.setAttribute('fill', '#fff');
    letter.textContent = s[2];
  });

  // frame and ticks
  const axes = add('g', g);
  
  
  let minorD = '', majorD = '';
  for (let lon = 0; lon <= 360; lon += 10) {
    if (lon % 60 === 0) {
      majorD += 'M' + x(lon) + ' ' + y(40) + 'v-6M' + x(lon) + ' ' + y(-40) + 'v6';
    } else {
      minorD += 'M' + x(lon) + ' ' + y(40) + 'v-3.5M' + x(lon) + ' ' + y(-40) + 'v3.5';
    }
  }
  for (let lat = -30; lat <= 30; lat += 10) {
    if (lat % 30 === 0) {
      majorD += 'M' + x(0) + ' ' + y(lat) + 'h-5M' + x(360) + ' ' + y(lat) + 'h5';
    } else {
      minorD += 'M' + x(0) + ' ' + y(lat) + 'h-3M' + x(360) + ' ' + y(lat) + 'h3';
    }
  }
  const minorTicks = add('path', axes);
  
  
  minorTicks.setAttribute('d', minorD);
  minorTicks.setAttribute('stroke', '#000');
  minorTicks.setAttribute('stroke-width', 1.4);
  minorTicks.setAttribute('fill', 'none');

  const majorTicks = add('path', axes);
  
  
  majorTicks.setAttribute('d', majorD);
  majorTicks.setAttribute('stroke', '#000');
  majorTicks.setAttribute('stroke-width', 2.4);
  majorTicks.setAttribute('fill', 'none');

  const frame = add('rect', axes);
  
  
  frame.setAttribute('x', left);
  frame.setAttribute('y', top);
  frame.setAttribute('width', mapW);
  frame.setAttribute('height', mapH);
  frame.setAttribute('fill', 'none');
  frame.setAttribute('stroke', '#000');
  frame.setAttribute('stroke-width', 2.8);

  const title = add('text', g);
  
  
  title.setAttribute('x', left - 2);
  title.setAttribute('y', top - 8);
  title.setAttribute('font-size', 34.9);
  title.textContent = panelTitles[p.i];

  if (p.tag) {
    const tag = add('text', g);
    
    
    tag.setAttribute('x', left + mapW);
    tag.setAttribute('y', top - 8);
    tag.setAttribute('font-size', 34.9);
    tag.setAttribute('text-anchor', 'end');
    tag.textContent = p.tag;
  }

  if (p.col === 0) {
    latTicks.forEach(function (lat, k) {
      const t = add('text', g);
      
      
      t.setAttribute('x', 74);
      t.setAttribute('y', y(lat) + 12);
      t.setAttribute('font-size', 34.9);
      t.setAttribute('text-anchor', 'end');
      t.textContent = latTickLabels[k];
    });
  }
  if (p.row === 3) {
    lonTicks.forEach(function (lon, k) {
      const t = add('text', g);
      
      
      t.setAttribute('x', x(lon) - 0.8);
      t.setAttribute('y', 879);
      t.setAttribute('font-size', 34.9);
      t.setAttribute('text-anchor', 'middle');
      t.textContent = lonTickLabels[k];
    });
  }
});

// colour bar
const barG = document.getElementById('colorbar');
const barLeft = 229.5, barTop = 939.5, barBox = 54.9, barH = 21.5;
colorbarColors.forEach(function (c, k) {
  const r = add('rect', barG);
  
  
  r.setAttribute('x', barLeft + k * barBox);
  r.setAttribute('y', barTop);
  r.setAttribute('width', barBox);
  r.setAttribute('height', barH);
  r.setAttribute('fill', c);
  r.setAttribute('stroke', '#000');
  r.setAttribute('stroke-width', 1.2);
});
colorbarLabels.forEach(function (label, k) {
  const t = add('text', barG);
  
  
  t.setAttribute('x', barLeft + (k + 1) * barBox);
  t.setAttribute('y', 989);
  t.setAttribute('font-size', 29.5);
  t.setAttribute('text-anchor', 'middle');
  t.textContent = label;
});
</script>
</body>
</html>
